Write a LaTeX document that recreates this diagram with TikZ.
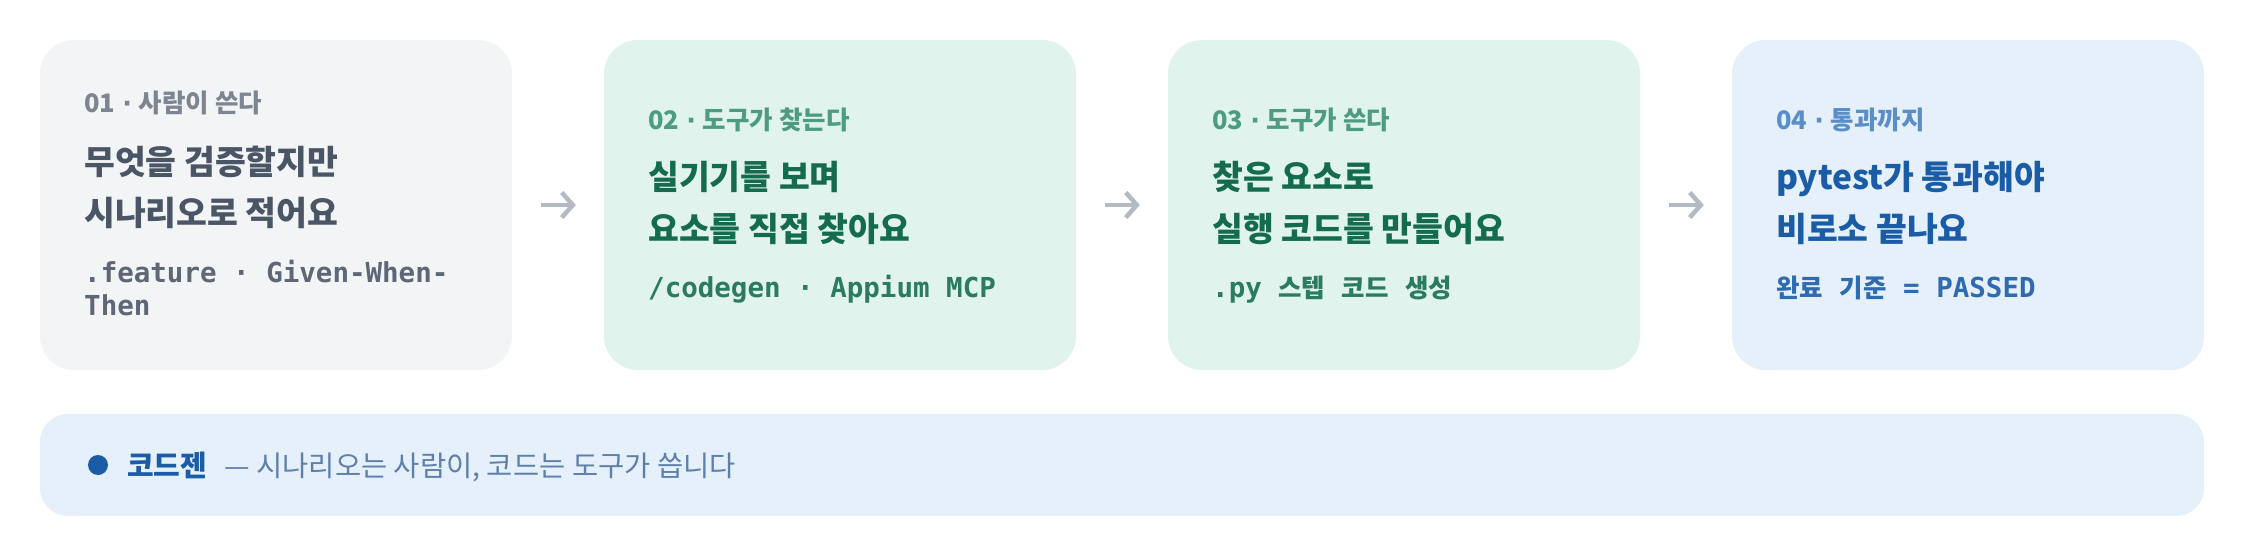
\documentclass[tikz,border=0pt]{standalone}
\usepackage{fontspec}
\setmainfont{Noto Sans CJK KR}
\setmonofont{DejaVu Sans Mono}
\newfontfamily\dvfont{DejaVu Sans}
\usetikzlibrary{arrows.meta}
\definecolor{grayfill}{HTML}{F2F4F6}
\definecolor{grayhdr}{HTML}{7D8590}
\definecolor{graytitle}{HTML}{4A5565}
\definecolor{graysub}{HTML}{5D6775}
\definecolor{mintfill}{HTML}{E0F3ED}
\definecolor{greenhdr}{HTML}{4D9C82}
\definecolor{greentitle}{HTML}{146B4E}
\definecolor{greensub}{HTML}{2B7B60}
\definecolor{bluefill}{HTML}{E5F0FA}
\definecolor{bluehdr}{HTML}{5A8EC6}
\definecolor{bluetitle}{HTML}{1A5DA6}
\definecolor{bluesub}{HTML}{2E6BB0}
\definecolor{bartext}{HTML}{5D80AA}
\definecolor{arrowgray}{HTML}{B3BAC4}
\tikzset{
  card/.style={draw=none, rounded corners=34pt, minimum width=472pt, minimum height=330pt, inner sep=0pt},
  hdr/.style={anchor=base west, inner sep=0pt, font=\bfseries\fontsize{25.5}{28}\selectfont},
  ttl/.style={anchor=base west, inner sep=0pt, font=\bfseries\fontsize{33.5}{38}\selectfont},
  mono/.style={anchor=base west, inner sep=0pt, font=\ttfamily\bfseries\fontsize{27.5}{32}\selectfont},
  subk/.style={anchor=base west, inner sep=0pt, font=\bfseries\fontsize{25.5}{30}\selectfont},
  flow/.style={draw=arrowgray, line width=4.5pt, -{Straight Barb[length=11pt,width=25pt]}, shorten <=29pt, shorten >=28pt},
}
\newcommand{\msp}{{\ttfamily\fontsize{27.5}{32}\selectfont\ }}
\newcommand{\hdot}{\hspace{7pt}{\dvfont ·}\hspace{7pt}}
\begin{document}
\begin{tikzpicture}[x=1pt, y=-1pt]
\useasboundingbox (0,0) rectangle (2244,556);
\fill[white] (0,0) rectangle (2244,556);

% cards
\node[card, fill=grayfill] (b1) at (276,205) {};
\node[card, fill=mintfill] (b2) at (840,205) {};
\node[card, fill=mintfill] (b3) at (1404,205) {};
\node[card, fill=bluefill] (b4) at (1968,205) {};

% card 1
\node[hdr, text=grayhdr] (h1) at (84,113) {01\hdot 사람이 쓴다};
\node[ttl, text=graytitle] (t1a) at (84,175) {무엇을 검증할지만};
\node[ttl, text=graytitle] (t1b) at (84,226) {시나리오로 적어요};
\node[mono, text=graysub] (s1a) at (84,282) {.feature · Given-When-};
\node[mono, text=graysub] (s1b) at (84,315) {Then};

% card 2
\node[hdr, text=greenhdr] (h2) at (648,130) {02\hdot 도구가 찾는다};
\node[ttl, text=greentitle] (t2a) at (648,190) {실기기를 보며};
\node[ttl, text=greentitle] (t2b) at (648,242) {요소를 직접 찾아요};
\node[mono, text=greensub] (s2) at (648,298) {/codegen · Appium MCP};

% card 3
\node[hdr, text=greenhdr] (h3) at (1212,130) {03\hdot 도구가 쓴다};
\node[ttl, text=greentitle] (t3a) at (1212,190) {찾은 요소로};
\node[ttl, text=greentitle] (t3b) at (1212,242) {실행 코드를 만들어요};
\node[subk, text=greensub] (s3) at (1212,298) {{\ttfamily\fontsize{27.5}{32}\selectfont .py}\msp 스텝\msp 코드\msp 생성};

% card 4
\node[hdr, text=bluehdr] (h4) at (1776,130) {04\hdot 통과까지};
\node[ttl, text=bluetitle] (t4a) at (1776,190) {pytest가 통과해야};
\node[ttl, text=bluetitle] (t4b) at (1776,242) {비로소 끝나요};
\node[subk, text=bluesub] (s4) at (1776,298) {완료\msp 기준\msp{\ttfamily\fontsize{27.5}{32}\selectfont = PASSED}};

% arrows
\draw[flow] (b1) -- (b2);
\draw[flow] (b2) -- (b3);
\draw[flow] (b3) -- (b4);

% bottom bar
\node[draw=none, fill=bluefill, rounded corners=28pt, minimum width=2164pt, minimum height=102pt, inner sep=0pt] (bar) at (1122,465) {};
\node[circle, fill=bluetitle, minimum size=20pt, inner sep=0pt] (dot) at (98,465) {};
\node[anchor=base west, inner sep=0pt, text=bluetitle, font=\bfseries\fontsize{29}{32}\selectfont] (bk) at (127,476) {코드젠};
\node[anchor=base west, inner sep=0pt, text=bartext, font=\fontsize{28.5}{32}\selectfont] (bd) at ([xshift=17pt]bk.base east) {— 시나리오는 사람이, 코드는 도구가 씁니다};
\end{tikzpicture}
\end{document}
